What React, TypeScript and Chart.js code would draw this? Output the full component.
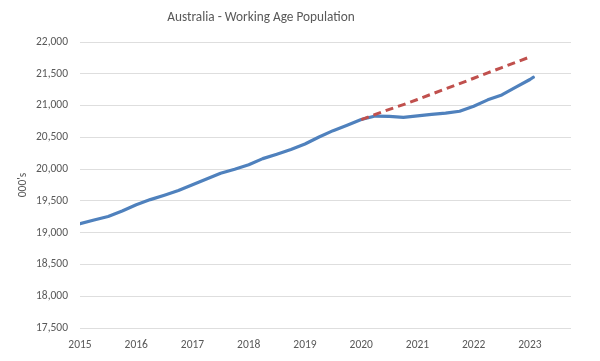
import React, { useEffect, useRef } from "react";
import { Chart, registerables } from "chart.js";

Chart.register(...registerables);

const TITLE = "Australia - Working Age Population";
const Y_TITLE = "000's";

const actualYears = [
  2015.0, 2015.25, 2015.5, 2015.75, 2016.0, 2016.25, 2016.5, 2016.75,
  2017.0, 2017.25, 2017.5, 2017.75, 2018.0, 2018.25, 2018.5, 2018.75,
  2019.0, 2019.25, 2019.5, 2019.75, 2020.0, 2020.25, 2020.5, 2020.75,
  2021.0, 2021.25, 2021.5, 2021.75, 2022.0, 2022.25, 2022.5, 2022.75,
  2023.0, 2023.06,
];
const actualValues = [
  19140, 19200, 19255, 19340, 19440, 19520, 19590, 19665,
  19755, 19845, 19935, 19998, 20068, 20165, 20235, 20310,
  20395, 20505, 20605, 20690, 20780, 20835, 20830, 20815,
  20838, 20860, 20880, 20910, 20990, 21090, 21167, 21290,
  21410, 21445,
];

const trendYears = [
  2020.0, 2020.25, 2020.5, 2020.75, 2021.0, 2021.25, 2021.5, 2021.75,
  2022.0, 2022.25, 2022.5, 2022.75, 2023.0,
];
const trendValues = [
  20780, 20860, 20940, 21015, 21095, 21180, 21262, 21345,
  21430, 21515, 21598, 21680, 21765,
];

const yTicks = [17500, 18000, 18500, 19000, 19500, 20000, 20500, 21000, 21500, 22000];
const xTickYears = [2015, 2016, 2017, 2018, 2019, 2020, 2021, 2022, 2023];

const FONT = "Carlito, Lato, 'Liberation Sans', sans-serif";
const TEXT = "#595959";

export default function App() {
  const ref = useRef<HTMLCanvasElement | null>(null);

  useEffect(() => {
    if (!ref.current) return;
    const titlePlugin = {
      id: "customTitle",
      afterDraw(chart: any) {
        const ctx = chart.ctx;
        ctx.save();
        ctx.fillStyle = TEXT;
        ctx.font = `13.3px ${FONT}`;
        ctx.textAlign = "center";
        ctx.textBaseline = "middle";
        ctx.fillText(TITLE, 261, 18);
        ctx.restore();
      },
    };
    const chart = new Chart(ref.current, {
      type: "line",
      data: {
        datasets: [
          {
            label: "Trend",
            data: trendYears.map((x, i) => ({ x, y: trendValues[i] })),
            borderColor: "#C0504D",
            borderWidth: 3,
            borderDash: [8, 5],
            pointRadius: 0,
            fill: false,
            tension: 0,
          },
          {
            label: "Working Age Population",
            data: actualYears.map((x, i) => ({ x, y: actualValues[i] })),
            borderColor: "#4F81BD",
            borderWidth: 3.2,
            pointRadius: 0,
            fill: false,
            tension: 0,
            borderCapStyle: "round",
            borderJoinStyle: "round",
          },
        ],
      },
      options: {
        animation: false,
        responsive: false,
        maintainAspectRatio: false,
        layout: { padding: { top: 42, right: 29, left: 0, bottom: 0 } },
        plugins: {
          legend: { display: false },
          tooltip: { enabled: false },
          title: { display: false },
        },
        scales: {
          x: {
            type: "linear",
            min: 2015,
            max: 2023.73,
            afterFit: (s: any) => {
              s.height = 33;
            },
            afterBuildTicks: (s: any) => {
              s.ticks = xTickYears.map((v) => ({ value: v }));
            },
            ticks: {
              stepSize: 1,
              includeBounds: false,
              padding: 10,
              color: TEXT,
              font: { family: FONT, size: 11.5 },
              maxRotation: 0,
              callback: (v: any) => String(v),
            },
            grid: { display: false, drawTicks: false },
            border: { display: false },
          },
          y: {
            type: "linear",
            min: 17500,
            max: 22000,
            afterFit: (s: any) => {
              s.width = 80;
            },
            afterBuildTicks: (s: any) => {
              s.ticks = yTicks.map((v) => ({ value: v }));
            },
            ticks: {
              stepSize: 500,
              padding: 12,
              color: TEXT,
              font: { family: FONT, size: 11.5 },
              callback: (v: any) => Number(v).toLocaleString("en-US"),
            },
            grid: { color: "#DEDEDE", lineWidth: 1, drawTicks: false },
            border: { display: false },
            title: {
              display: true,
              text: Y_TITLE,
              color: TEXT,
              font: { family: FONT, size: 11.5 },
              padding: { top: 16, bottom: 0 },
            },
          },
        },
      },
      plugins: [titlePlugin],
    } as any);
    return () => chart.destroy();
  }, []);

  return (
    <div style={{ position: "fixed", left: 0, top: 0, width: 600, height: 361, background: "#fff" }}>
      <canvas ref={ref} width={600} height={361} />
    </div>
  );
}
